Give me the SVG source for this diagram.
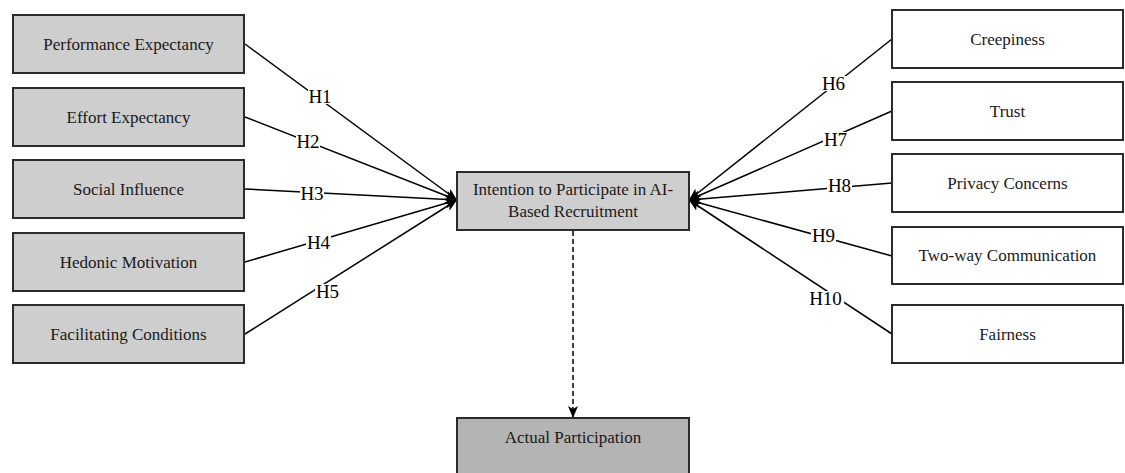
<svg xmlns="http://www.w3.org/2000/svg" width="1125" height="473" viewBox="0 0 1125 473">
  <style>
    .box { stroke: #2b2b2b; stroke-width: 2; }
    .grey { fill: #cecece; }
    .dark { fill: #b4b4b4; }
    .white { fill: #ffffff; }
    .txt { font-family: 'Liberation Serif', 'DejaVu Serif', serif; font-size: 17px; fill: #1a1a1a; text-anchor: middle; }
    .edge { stroke: #000; stroke-width: 1.5; fill: none; }
    .dash { stroke: #000; stroke-width: 1.5; fill: none; stroke-dasharray: 5 3; }
    .hl { font-family: 'Liberation Serif', 'DejaVu Serif', serif; font-size: 19px; fill: #000; text-anchor: middle; }
    .hbg { fill: #ffffff; }
  </style>
  <defs>
    <marker id="arrow" viewBox="0 0 12 10" refX="12" refY="5" markerWidth="12" markerHeight="10" markerUnits="userSpaceOnUse" orient="auto">
      <path d="M0,0 L12,5 L0,10 L3,5 Z" fill="#000"/>
    </marker>
  </defs>

  <rect width="1125" height="473" fill="#ffffff"/>

  <!-- connectors -->
  <g id="connectors">
    <line class="edge" x1="245" y1="44" x2="457" y2="200" marker-end="url(#arrow)"/>
    <line class="edge" x1="245" y1="117" x2="457" y2="200" marker-end="url(#arrow)"/>
    <line class="edge" x1="245" y1="189" x2="457" y2="200" marker-end="url(#arrow)"/>
    <line class="edge" x1="245" y1="262" x2="457" y2="200" marker-end="url(#arrow)"/>
    <line class="edge" x1="245" y1="334" x2="457" y2="200" marker-end="url(#arrow)"/>
    <line class="edge" x1="892" y1="39" x2="689" y2="200" marker-end="url(#arrow)"/>
    <line class="edge" x1="892" y1="111" x2="689" y2="200" marker-end="url(#arrow)"/>
    <line class="edge" x1="892" y1="183" x2="689" y2="200" marker-end="url(#arrow)"/>
    <line class="edge" x1="892" y1="256" x2="689" y2="200" marker-end="url(#arrow)"/>
    <line class="edge" x1="892" y1="334" x2="689" y2="200" marker-end="url(#arrow)"/>
    <line class="dash" x1="573" y1="231" x2="573" y2="418" marker-end="url(#arrow)"/>

    <!-- hypothesis labels -->
    <rect class="hbg" x="308" y="89" width="24" height="15"/>
    <text class="hl" x="320" y="103">H1</text>
    <rect class="hbg" x="296" y="134" width="24" height="15"/>
    <text class="hl" x="308" y="148">H2</text>
    <rect class="hbg" x="300" y="186" width="24" height="15"/>
    <text class="hl" x="312" y="200">H3</text>
    <rect class="hbg" x="306" y="235" width="25" height="15"/>
    <text class="hl" x="318.5" y="249">H4</text>
    <rect class="hbg" x="315" y="284" width="25" height="15"/>
    <text class="hl" x="327.5" y="298">H5</text>
    <rect class="hbg" x="821" y="76" width="25" height="15"/>
    <text class="hl" x="833.5" y="90">H6</text>
    <rect class="hbg" x="823" y="132" width="25" height="15"/>
    <text class="hl" x="835.5" y="146">H7</text>
    <rect class="hbg" x="827" y="178" width="25" height="15"/>
    <text class="hl" x="839.5" y="192">H8</text>
    <rect class="hbg" x="811" y="228" width="25" height="15"/>
    <text class="hl" x="823.5" y="242">H9</text>
    <rect class="hbg" x="807" y="291" width="37" height="15"/>
    <text class="hl" x="825.5" y="305">H10</text>
  </g>

  <!-- antecedent constructs (left) -->
  <g id="performance-expectancy">
    <rect class="box grey" x="13" y="15" width="231" height="58"/>
    <text class="txt" x="128.5" y="50">Performance Expectancy</text>
  </g>
  <g id="effort-expectancy">
    <rect class="box grey" x="13" y="88" width="231" height="58"/>
    <text class="txt" x="128.5" y="123">Effort Expectancy</text>
  </g>
  <g id="social-influence">
    <rect class="box grey" x="13" y="160" width="231" height="58"/>
    <text class="txt" x="128.5" y="195">Social Influence</text>
  </g>
  <g id="hedonic-motivation">
    <rect class="box grey" x="13" y="233" width="231" height="58"/>
    <text class="txt" x="128.5" y="268">Hedonic Motivation</text>
  </g>
  <g id="facilitating-conditions">
    <rect class="box grey" x="13" y="305" width="231" height="58"/>
    <text class="txt" x="128.5" y="340">Facilitating Conditions</text>
  </g>

  <!-- central construct -->
  <g id="intention">
    <rect class="box grey" x="457" y="172" width="232" height="58"/>
    <text class="txt" x="573" y="195">Intention to Participate in AI-</text>
    <text class="txt" x="573" y="217">Based Recruitment</text>
  </g>

  <!-- outcome -->
  <g id="actual-participation">
    <rect class="box dark" x="457" y="418" width="232" height="58"/>
    <text class="txt" x="573" y="443">Actual Participation</text>
  </g>

  <!-- antecedent constructs (right) -->
  <g id="creepiness">
    <rect class="box white" x="892" y="10" width="231" height="58"/>
    <text class="txt" x="1007.5" y="45">Creepiness</text>
  </g>
  <g id="trust">
    <rect class="box white" x="892" y="82" width="231" height="58"/>
    <text class="txt" x="1007.5" y="117">Trust</text>
  </g>
  <g id="privacy-concerns">
    <rect class="box white" x="892" y="154" width="231" height="58"/>
    <text class="txt" x="1007.5" y="189">Privacy Concerns</text>
  </g>
  <g id="two-way-communication">
    <rect class="box white" x="892" y="227" width="231" height="57"/>
    <text class="txt" x="1007.5" y="261">Two-way Communication</text>
  </g>
  <g id="fairness">
    <rect class="box white" x="892" y="305" width="231" height="58"/>
    <text class="txt" x="1007.5" y="340">Fairness</text>
  </g>
</svg>
